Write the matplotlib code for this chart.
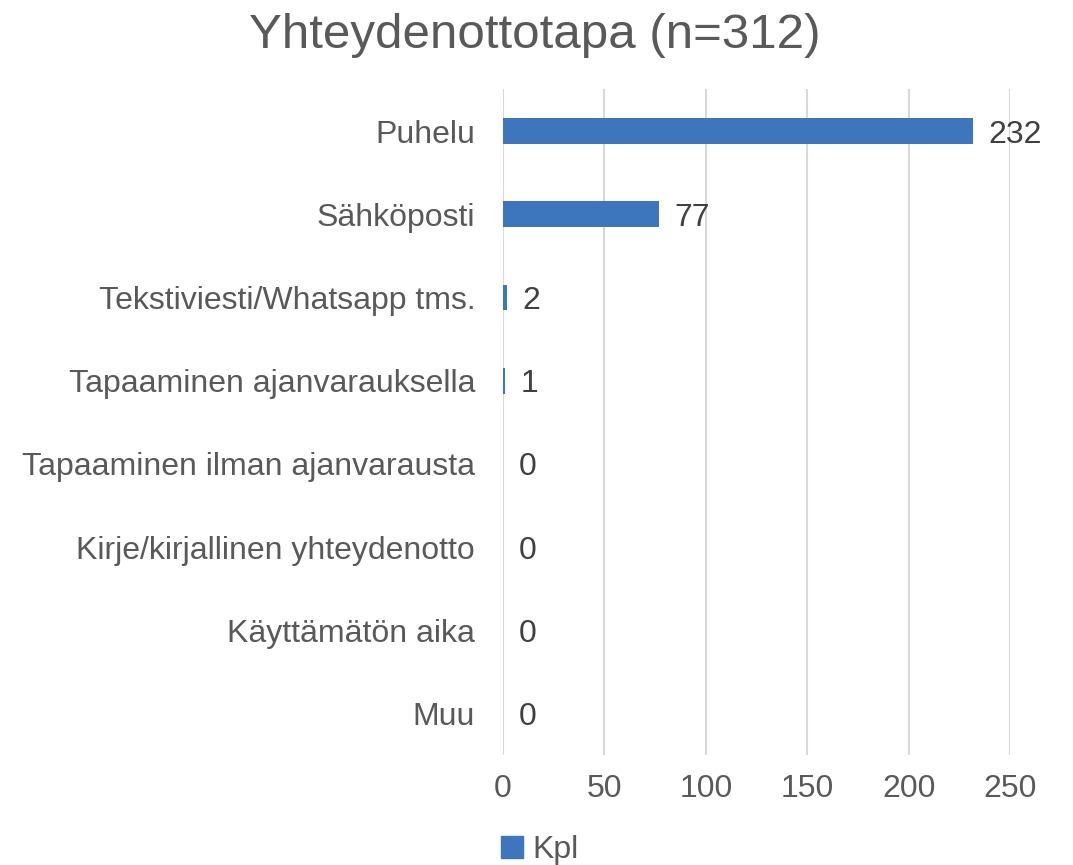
import matplotlib
matplotlib.use("Agg")
import matplotlib.pyplot as plt
from matplotlib.patches import Patch

categories = ["Puhelu", "Sähköposti", "Tekstiviesti/Whatsapp tms.", "Tapaaminen ajanvarauksella",
              "Tapaaminen ilman ajanvarausta", "Kirje/kirjallinen yhteydenotto", "Käyttämätön aika", "Muu"]
values = [232, 77, 2, 1, 0, 0, 0, 0]
xticks = [0, 50, 100, 150, 200, 250]
title = "Yhteydenottotapa (n=312)"
series_name = "Kpl"

plt.rcParams['font.family'] = ['Liberation Sans', 'DejaVu Sans']
W, H = 1073, 865
fig = plt.figure(figsize=(W / 100, H / 100), dpi=100)
left, right, top, bottom = 503, 1010, 89.5, 755
ax = fig.add_axes([left / W, 1 - bottom / H, (right - left) / W, (bottom - top) / H])

bar_color = "#3D76BD"
ypos = list(range(len(categories)))
ax.barh(ypos, values, height=0.31, color=bar_color, zorder=3)
ax.set_ylim(len(categories) - 0.5, -0.5)
ax.set_xlim(0, 250)
ax.set_xticks(xticks)
ax.set_xticklabels([str(t) for t in xticks])
ax.set_yticks(ypos)
ax.set_yticklabels(categories)
ax.tick_params(axis='y', length=0, pad=20, labelsize=23, labelcolor="#595959")
ax.tick_params(axis='x', length=0, pad=14, labelsize=23, labelcolor="#595959")
ax.grid(axis='x', color="#D9D9D9", linewidth=1.5, zorder=0)
for s in ax.spines.values():
    s.set_visible(False)

for y, v in zip(ypos, values):
    ax.annotate(str(v), (v, y), xytext=(11, 0), textcoords='offset points',
                va='center_baseline', ha='left', fontsize=23, color="#404040")

fig.text(535 / W, 1 - 35 / H, title, ha='center', va='center', fontsize=35.5, color="#595959")

leg = fig.legend(handles=[Patch(color=bar_color, label=series_name)], loc='center',
                 bbox_to_anchor=(540 / W, 1 - 850 / H), frameon=False, fontsize=23,
                 handlelength=0.7, handleheight=0.7, handletextpad=0.3, labelcolor="#595959")

fig.savefig("out.png", dpi=100)
